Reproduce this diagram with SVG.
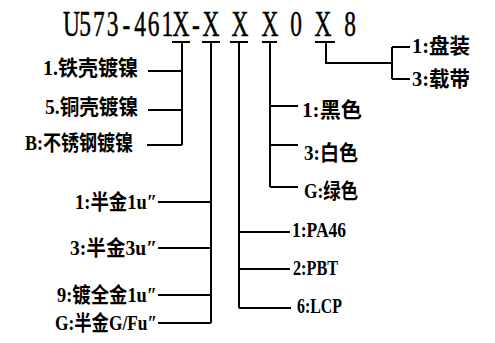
<svg xmlns="http://www.w3.org/2000/svg" width="495" height="343" viewBox="0 0 495 343">
<style>
.ln{stroke:#000;stroke-width:2;fill:none}
.t{font-family:"Liberation Serif","Noto Sans CJK SC",serif;font-size:21px;fill:#000;font-weight:bold}
.title{font-family:"Liberation Serif",serif;font-size:36px;fill:#000;stroke:#000;stroke-width:0.5}
</style>
<rect width="495" height="343" fill="#fff"/>
<g id="title">
<text class="title" transform="scale(0.65,1)" y="36" text-anchor="middle" x="110 131.1 152.2 173.2 194.3 215.4 236.5 257.5 278.5 301.5 324.6 369.2 415.4 455.4 496.9 538.5">U573-461X-XXX0X8</text>
</g>
<g id="connectors">
<path class="ln" d="M172 42H190M202 42H220M230 42H248M262 42H277M315 42H335"/>
<path class="ln" d="M182 42V145M148 71H182M148 110H182M147 145H182"/>
<path class="ln" d="M211 42V323M158 202H211M158 248H211M158 295H211M158 323H211"/>
<path class="ln" d="M239 42V308M239 232H290M239 269H290M239 308H291"/>
<path class="ln" d="M270 42V187M270 106H298M270 145H298M270 187H298"/>
<path class="ln" d="M326 42V63H392M392 47V79M392 47H410M392 79H410"/>
</g>
<g id="n-pack1"><text class="t" x="412" y="53" textLength="58" lengthAdjust="spacingAndGlyphs">1:盘装</text></g>
<g id="n-pack3"><text class="t" x="412" y="86" textLength="58" lengthAdjust="spacingAndGlyphs">3:载带</text></g>
<g id="n-c1"><text class="t" x="302" y="117" textLength="60" lengthAdjust="spacingAndGlyphs">1:黑色</text></g>
<g id="n-c3"><text class="t" x="304" y="160" textLength="54" lengthAdjust="spacingAndGlyphs">3:白色</text></g>
<g id="n-cG"><text class="t" x="304" y="198" textLength="54" lengthAdjust="spacingAndGlyphs">G:绿色</text></g>
<g id="n-m1"><text class="t" x="292" y="237" textLength="54" lengthAdjust="spacingAndGlyphs">1:PA46</text></g>
<g id="n-m2"><text class="t" x="293" y="275" textLength="45" lengthAdjust="spacingAndGlyphs">2:PBT</text></g>
<g id="n-m6"><text class="t" x="297" y="313" textLength="45" lengthAdjust="spacingAndGlyphs">6:LCP</text></g>
<g id="n-s1"><text class="t" x="43" y="75" textLength="95" lengthAdjust="spacingAndGlyphs">1.铁壳镀镍</text></g>
<g id="n-s5"><text class="t" x="45" y="114" textLength="93" lengthAdjust="spacingAndGlyphs">5.铜壳镀镍</text></g>
<g id="n-sB"><text class="t" x="25" y="150" textLength="108" lengthAdjust="spacingAndGlyphs">B:不锈钢镀镍</text></g>
<g id="n-g1"><text class="t" x="75" y="209" textLength="82" lengthAdjust="spacingAndGlyphs">1:半金1u″</text></g>
<g id="n-g3"><text class="t" x="70" y="255" textLength="87" lengthAdjust="spacingAndGlyphs">3:半金3u″</text></g>
<g id="n-g9"><text class="t" x="57" y="302" textLength="100" lengthAdjust="spacingAndGlyphs">9:镀全金1u″</text></g>
<g id="n-gG"><text class="t" x="55" y="330" textLength="102" lengthAdjust="spacingAndGlyphs">G:半金G/Fu″</text></g>
</svg>
